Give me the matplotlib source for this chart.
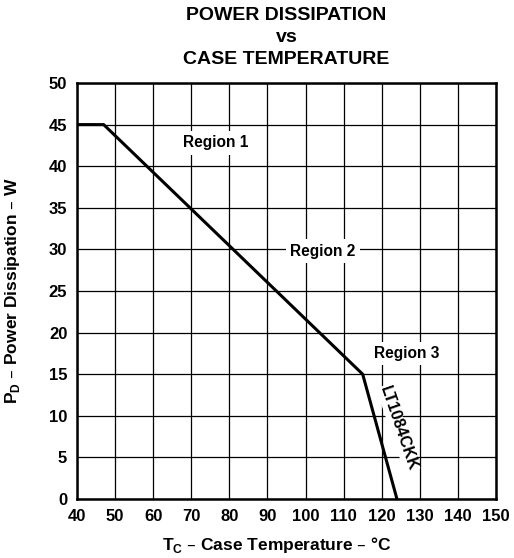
import matplotlib
matplotlib.use("Agg")
import matplotlib.pyplot as plt

temp_c = [40, 47, 115, 124]
power_w = [45, 45, 15, 0]
x_ticks = list(range(40, 151, 10))
y_ticks = list(range(0, 51, 5))
region_labels = ["Region 1", "Region 2", "Region 3"]
region_pos = [(76.3, 42.8), (104.5, 29.8), (126.5, 17.5)]

plt.rcParams['font.family'] = ['Liberation Sans', 'DejaVu Sans']
plt.rcParams['font.weight'] = 'bold'

fig = plt.figure(figsize=(5.14, 5.58), dpi=100)
ax = fig.add_axes([77/514, 1-499/558, 419/514, 416/558])
ax.set_xlim(40, 150)
ax.set_ylim(0, 50)
ax.set_xticks(x_ticks)
ax.set_yticks(y_ticks)
ax.grid(True, color='black', linewidth=0.9)
ax.set_axisbelow(True)
for s in ax.spines.values():
    s.set_linewidth(1.8)
ax.tick_params(length=0, labelsize=12, pad=7)
for lab in ax.get_xticklabels() + ax.get_yticklabels():
    lab.set_fontweight('bold')

ax.plot(temp_c, power_w, color='black', linewidth=2.2, zorder=3)

for lab, (x, y) in zip(region_labels, region_pos):
    ax.text(x, y, lab, ha='center', va='center', fontsize=11.2, fontweight='bold',
            bbox=dict(facecolor='white', edgecolor='none', pad=3), zorder=4)

ax.text(124.3, 8.5, "LT1084CKK", rotation=-71, ha='center', va='center',
        fontsize=11.5, fontweight='bold', rotation_mode='anchor',
        bbox=dict(facecolor='white', edgecolor='none', pad=0.5), zorder=4)

ax.set_xlabel(r"T$_\mathregular{C}$ – Case Temperature – °C", fontsize=12.5, fontweight='bold', labelpad=9)
ax.xaxis.set_label_coords(0.477, -0.087)
ax.set_ylabel(r"P$_\mathregular{D}$ – Power Dissipation – W", fontsize=12.5, fontweight='bold', labelpad=19)

cx = (77 + 419/2) / 514
fig.text(cx, 1-15/558, "POWER DISSIPATION", ha='center', va='center', fontsize=14, fontweight='bold')
fig.text(cx, 1-37/558, "vs", ha='center', va='center', fontsize=14, fontweight='bold')
fig.text(cx, 1-59/558, "CASE TEMPERATURE", ha='center', va='center', fontsize=14, fontweight='bold')

fig.savefig("out.png", dpi=100)
